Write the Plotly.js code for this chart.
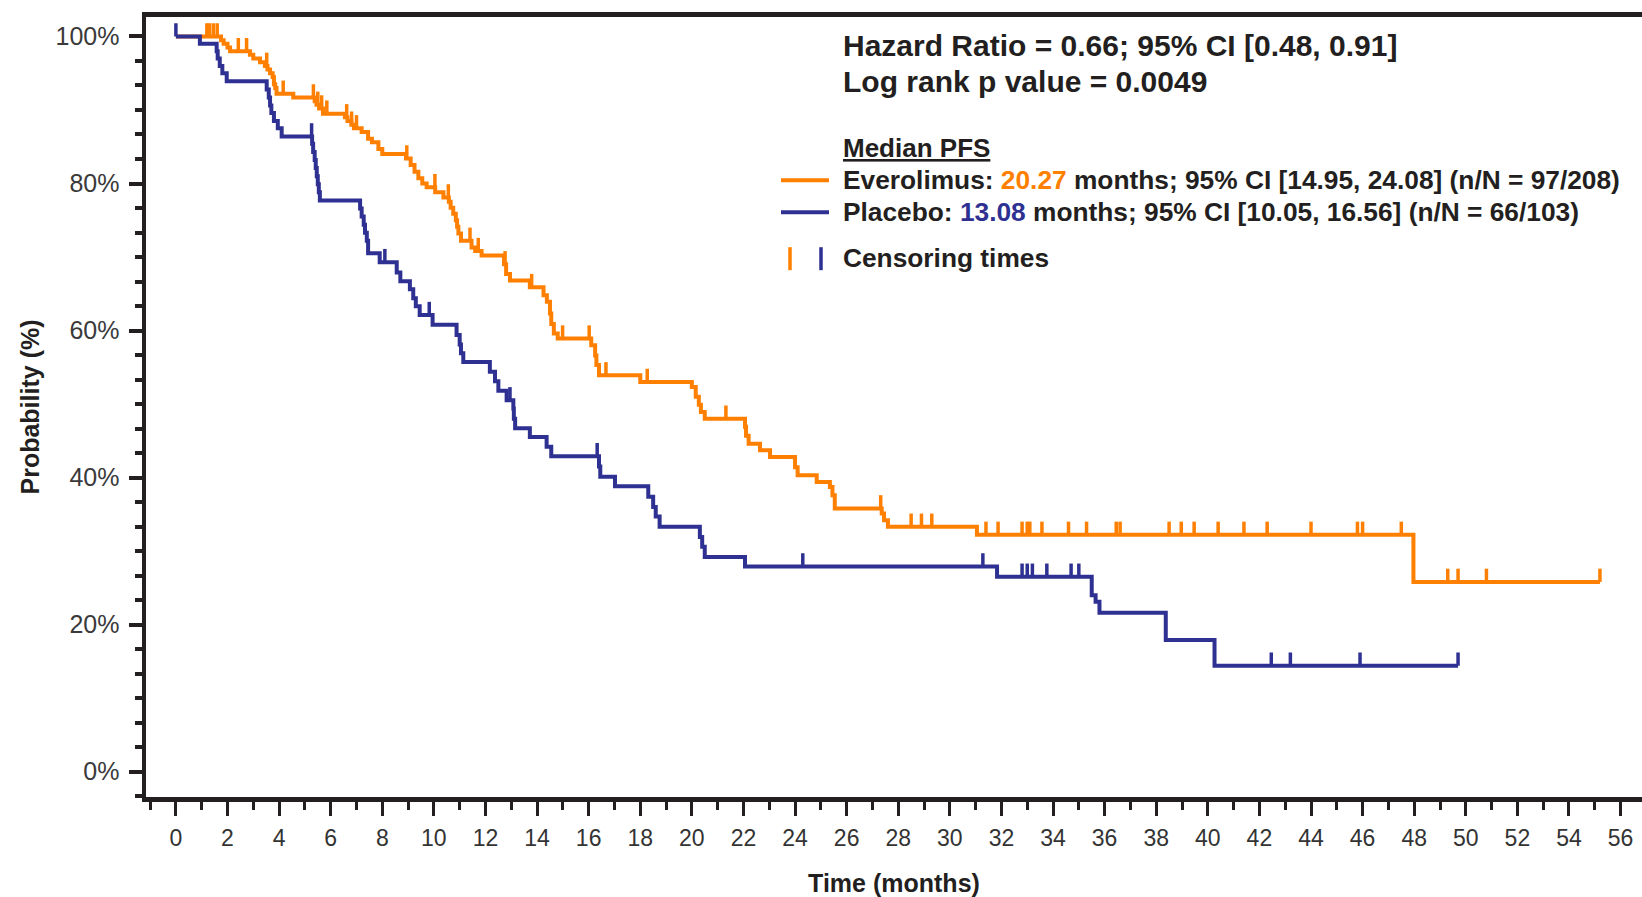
<!DOCTYPE html>
<html><head><meta charset="utf-8">
<script src="https://cdn.plot.ly/plotly-3.0.1.min.js"></script>
<style>html,body{margin:0;padding:0;background:#fff}#chart{width:1642px;height:897px}</style>
</head><body><div id="chart"></div>
<script>
// ---- Data ----
const everolimusTimes = [0,1.75,1.85,2.0,2.1,2.87,3.0,3.26,3.45,3.55,3.65,3.75,3.8,3.85,3.9,4.55,5.38,5.45,5.55,5.7,6.55,6.65,6.8,6.9,7.2,7.45,7.6,7.85,8.0,8.92,9.1,9.25,9.4,9.55,9.72,10.05,10.37,10.58,10.65,10.75,10.85,10.9,10.95,11.05,11.46,11.6,11.85,12.72,12.8,12.95,13.72,14.25,14.38,14.5,14.55,14.65,14.8,16.1,16.25,16.3,16.4,18.0,20.0,20.15,20.27,20.35,20.5,22.06,22.1,22.2,22.64,23.03,24.0,24.1,24.84,25.35,25.45,25.54,27.36,27.45,27.6,31.05,47.97,55.2];
const everolimusSurv = [100,99.5,99.0,98.5,98.0,97.5,97.0,96.5,96.0,95.5,95.0,94.5,93.5,93.0,92.2,91.7,91.2,90.7,90.2,89.5,89.0,88.5,88.0,87.5,87.0,86.1,85.6,84.7,84.0,83.4,82.5,81.6,80.7,80.0,79.5,78.8,78.1,77.5,76.7,75.9,75.0,74.1,73.2,72.2,71.3,70.8,70.2,69.0,67.7,66.8,65.9,64.8,63.9,62.3,60.9,59.6,58.9,58.0,56.6,55.3,53.9,53.0,52.3,51.0,49.9,48.9,48.0,46.9,45.7,44.6,43.7,42.8,41.4,40.3,39.4,38.7,37.6,35.8,35.1,34.2,33.3,32.2,25.8,25.8];
const everolimusCensor = [1.2,1.3,1.45,1.6,2.42,2.74,3.52,4.16,5.33,5.5,5.65,5.85,6.62,6.81,7.0,8.95,10.04,10.56,11.4,11.72,12.76,13.79,14.99,16.02,16.67,18.27,21.32,27.32,28.5,28.9,29.3,31.4,31.87,32.8,33.0,33.1,33.57,34.6,35.3,36.45,36.6,38.5,38.97,39.47,40.4,41.4,42.3,44.0,45.8,46.0,47.5,49.3,49.7,50.8,55.2];

const placeboTimes = [0,0.93,1.58,1.62,1.7,1.8,1.97,3.52,3.6,3.65,3.7,3.8,3.95,4.1,5.28,5.32,5.38,5.42,5.46,5.5,5.54,5.58,7.14,7.2,7.28,7.33,7.4,7.45,7.9,8.56,8.7,9.07,9.2,9.3,9.45,9.95,10.88,11.0,11.05,11.14,12.17,12.37,12.5,12.82,13.08,13.1,13.15,13.72,14.37,14.55,16.4,16.45,17.02,18.31,18.5,18.6,18.75,20.31,20.4,20.5,22.06,31.83,35.5,35.65,35.8,38.37,40.26,49.7];
const placeboSurv = [100,99.0,98.0,97.0,96.0,95.0,93.9,92.8,91.7,90.6,89.6,88.5,87.5,86.4,85.4,84.3,83.2,82.1,81.0,79.9,78.8,77.7,76.6,75.5,74.4,73.3,72.2,70.5,69.3,67.9,66.7,65.6,64.4,63.3,62.1,60.8,59.4,58.1,56.9,55.7,54.4,53.1,51.8,50.5,49.4,48.0,46.7,45.5,44.2,42.9,41.5,40.1,38.8,37.4,36.0,34.7,33.3,31.9,30.6,29.2,27.9,26.5,24.0,23.1,21.6,17.9,14.4,14.4];
const placeboCensor = [0,5.26,8.1,9.82,12.95,16.33,24.3,31.28,32.8,33.0,33.2,33.76,34.7,35.0,42.46,43.2,45.9,49.7];

const xTickVals = [0,2,4,6,8,10,12,14,16,18,20,22,24,26,28,30,32,34,36,38,40,42,44,46,48,50,52,54,56];
const yTickVals = [0,20,40,60,80,100];
const yTickText = ['0%','20%','40%','60%','80%','100%'];

// ---- Style ----
const ORANGE = '#FF7F00';
const BLUE = '#2E3192';
const INK = '#231F20';
const FONT = 'Liberation Sans, Arial, Helvetica, sans-serif';
const TICK_UP = 1.8; // censor tick height, in % units

function levelAt(times, surv, t) {
  let s = surv[0];
  for (let i = 0; i < times.length; i++) { if (times[i] <= t) s = surv[i]; }
  return s;
}
function censorTrace(times, surv, cens, color, name) {
  const x = [], y = [];
  cens.forEach(t => { const s = levelAt(times, surv, t); x.push(t, t, null); y.push(s, s + TICK_UP, null); });
  return {x, y, mode: 'lines', line: {color, width: 3.5}, name, showlegend: false, hoverinfo: 'skip'};
}

const traces = [
  {x: everolimusTimes, y: everolimusSurv, mode: 'lines', line: {shape: 'hv', color: ORANGE, width: 4}, name: 'Everolimus', showlegend: false},
  censorTrace(everolimusTimes, everolimusSurv, everolimusCensor, ORANGE, 'Everolimus censored'),
  {x: placeboTimes, y: placeboSurv, mode: 'lines', line: {shape: 'hv', color: BLUE, width: 4}, name: 'Placebo', showlegend: false},
  censorTrace(placeboTimes, placeboSurv, placeboCensor, BLUE, 'Placebo censored')
];

// plot area in pixels
const L = 146, R = 0, T = 16.5, B = 99.5, W = 1642, H = 897;
const PW = W - L - R, PH = H - T - B;
const px = x => (x - L) / PW;
const py = y => (H - B - y) / PH;

const annFont = (size) => ({family: FONT, size, color: INK, weight: 'bold'});
const annotations = [
  {text: '<b>Hazard Ratio = 0.66; 95% CI [0.48, 0.91]</b>', x: px(841), y: py(45), font: annFont(30)},
  {text: '<b>Log rank p value = 0.0049</b>', x: px(841), y: py(81), font: annFont(30)},
  {text: '<b><u>Median PFS</u></b>', x: px(841), y: py(148), font: annFont(26)},
  {text: '<b>Everolimus: <span style="color:' + ORANGE + '">20.27</span> months; 95% CI [14.95, 24.08] (n/N = 97/208)</b>', x: px(841), y: py(180), font: annFont(26.3)},
  {text: '<b>Placebo: <span style="color:' + BLUE + '">13.08</span> months; 95% CI [10.05, 16.56] (n/N = 66/103)</b>', x: px(841), y: py(212), font: annFont(26.3)},
  {text: '<b>Censoring times</b>', x: px(841), y: py(258), font: annFont(26.3)}
].map(a => Object.assign({xref: 'paper', yref: 'paper', xanchor: 'left', yanchor: 'middle', showarrow: false}, a));

const shapes = [
  {type: 'line', xref: 'paper', yref: 'paper', x0: px(781), x1: px(829), y0: py(180), y1: py(180), line: {color: ORANGE, width: 4}},
  {type: 'line', xref: 'paper', yref: 'paper', x0: px(781), x1: px(829), y0: py(212), y1: py(212), line: {color: BLUE, width: 4}},
  {type: 'line', xref: 'paper', yref: 'paper', x0: px(790), x1: px(790), y0: py(247), y1: py(270), line: {color: ORANGE, width: 3.5}},
  {type: 'line', xref: 'paper', yref: 'paper', x0: px(821), x1: px(821), y0: py(247), y1: py(270), line: {color: BLUE, width: 3.5}}
];

const layout = {
  width: W, height: H,
  margin: {l: L, r: R, t: T, b: B, pad: 0},
  paper_bgcolor: '#fff', plot_bgcolor: '#fff',
  showlegend: false,
  font: {family: FONT, color: INK},
  xaxis: {
    range: [-1.159, 56.83], tickmode: 'array', tickvals: xTickVals,
    ticks: 'outside', ticklen: 14, tickwidth: 3, tickcolor: INK,
    showline: true, linewidth: 5, linecolor: INK, mirror: true,
    showgrid: false, zeroline: false, ticklabelstandoff: 2,
    tickfont: {family: FONT, size: 23, color: '#333'},
    minor: {tickmode: 'linear', tick0: 1, dtick: 2, ticks: 'outside', ticklen: 8, tickwidth: 3, tickcolor: INK, showgrid: false},
    title: {text: '<b>Time (months)</b>', font: {family: FONT, size: 25, color: INK}, standoff: 26}
  },
  yaxis: {
    range: [-3.46, 102.65], tickmode: 'array', tickvals: yTickVals, ticktext: yTickText,
    ticks: 'outside', ticklen: 13, tickwidth: 4, tickcolor: INK,
    showline: true, linewidth: 4.5, linecolor: INK,
    showgrid: false, zeroline: false, ticklabelstandoff: 4,
    tickfont: {family: FONT, size: 25, color: '#3a3a3a'},
    minor: {tickmode: 'linear', tick0: 0, dtick: 20 / 6, ticks: 'outside', ticklen: 7, tickwidth: 4, tickcolor: INK, showgrid: false},
    title: {text: '<b>Probability (%)</b>', font: {family: FONT, size: 25, color: INK}, standoff: 10}
  },
  annotations, shapes
};

Plotly.newPlot('chart', traces, layout, {staticPlot: true, displayModeBar: false});
</script>
</body></html>
